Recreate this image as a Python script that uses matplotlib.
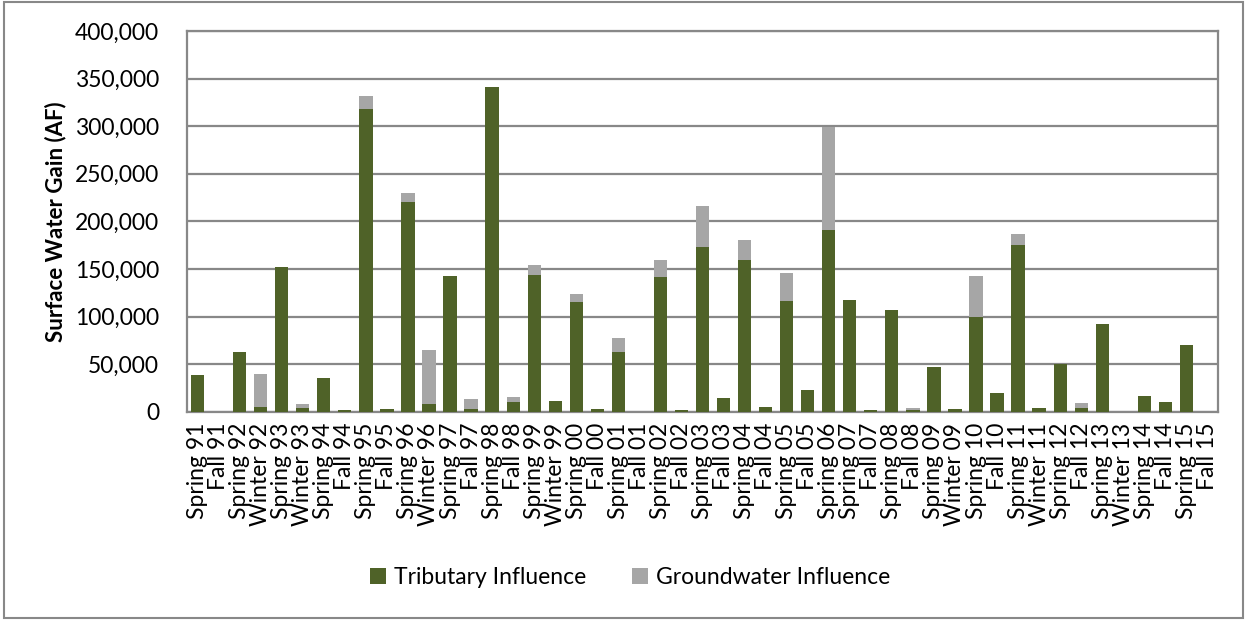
import matplotlib.pyplot as plt
import numpy as np
from matplotlib.patches import Rectangle
from matplotlib.ticker import FuncFormatter

plt.rcParams["font.family"] = ["Lato", "DejaVu Sans"]

seasons = [
    "Spring 91", "Fall 91", "Spring 92", "Winter 92", "Spring 93", "Winter 93",
    "Spring 94", "Fall 94", "Spring 95", "Fall 95", "Spring 96", "Winter 96",
    "Spring 97", "Fall 97", "Spring 98", "Fall 98", "Spring 99", "Winter 99",
    "Spring 00", "Fall 00", "Spring 01", "Fall 01", "Spring 02", "Fall 02",
    "Spring 03", "Fall 03", "Spring 04", "Fall 04", "Spring 05", "Fall 05",
    "Spring 06", "Spring 07", "Fall 07", "Spring 08", "Fall 08", "Spring 09",
    "Winter 09", "Spring 10", "Fall 10", "Spring 11", "Winter 11", "Spring 12",
    "Fall 12", "Spring 13", "Winter 13", "Spring 14", "Fall 14", "Spring 15",
    "Fall 15",
]

tributary = [
    38600, 0, 62800, 4900, 151800, 4200,
    35000, 1800, 318300, 2800, 219800, 8000,
    142300, 3200, 341500, 10200, 143700, 11600,
    115300, 2500, 63100, 0, 141600, 2100,
    172800, 14000, 159500, 5300, 116400, 22400,
    191100, 117500, 1800, 106600, 2100, 46600,
    2500, 99600, 19300, 175000, 3900, 50500,
    3500, 92200, 0, 16100, 9800, 69800,
    0,
]

groundwater = [
    0, 0, 0, 34400, 0, 3500,
    0, 0, 13400, 0, 9800, 56900,
    0, 10500, 0, 4900, 9900, 0,
    8100, 0, 14400, 0, 18300, 0,
    42800, 0, 21400, 0, 29800, 0,
    108300, 0, 0, 0, 1400, 0,
    0, 42700, 0, 11900, 0, 0,
    6000, 0, 0, 0, 0, 0,
    0,
]

green = "#4f6228"
grey = "#a6a6a6"
line_grey = "#888888"

fig = plt.figure(figsize=(12.47, 6.2), dpi=100)
ax = fig.add_axes([0.15, 0.336, 0.8267, 0.614])

x = np.arange(len(seasons))
ax.bar(x, tributary, width=0.63, color=green, linewidth=0,
       label="Tributary Influence", zorder=3)
ax.bar(x, groundwater, width=0.63, bottom=tributary, color=grey,
       linewidth=0, label="Groundwater Influence", zorder=3)

ax.set_xlim(-0.5, len(seasons) - 0.5)
ax.set_ylim(0, 400000)
ax.set_yticks(np.arange(0, 400001, 50000))
ax.yaxis.set_major_formatter(FuncFormatter(lambda v, p: f"{int(v):,}"))
ax.set_xticks(x)
ax.set_xticklabels(seasons, rotation=90, fontsize=16.5)
ax.tick_params(axis="y", labelsize=16.5, length=0, pad=20)
ax.tick_params(axis="x", length=0, pad=8)
ax.grid(axis="y", color=line_grey, linewidth=1.6, zorder=0)
for s in ax.spines.values():
    s.set_color(line_grey)
    s.set_linewidth(1.6)

ax.set_ylabel("Surface Water Gain (AF)", fontsize=16, fontweight="bold",
              labelpad=6)

handles, labels = ax.get_legend_handles_labels()
fig.legend(handles, labels, loc="center", bbox_to_anchor=(0.505, 0.068),
           ncol=2, frameon=False, fontsize=16.5, handlelength=0.7,
           handleheight=0.7, handletextpad=0.35, columnspacing=2.0)

# outer chart border
fig.patches.append(Rectangle((0.003, 0.004), 0.994, 0.992,
                             transform=fig.transFigure, fill=False,
                             edgecolor=line_grey, linewidth=1.5))

fig.savefig("out.png", dpi=100)
